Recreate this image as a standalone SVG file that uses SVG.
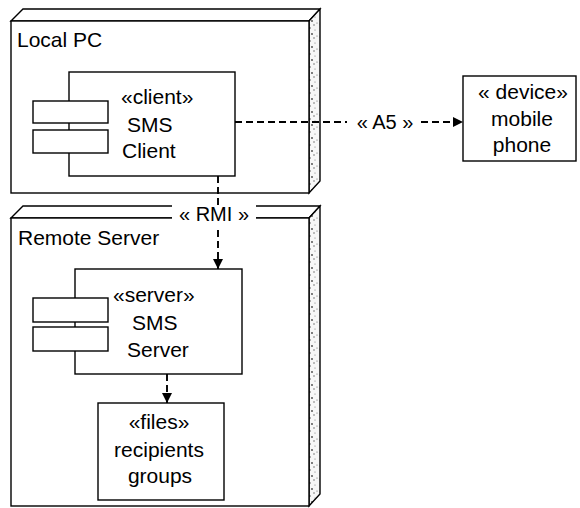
<svg xmlns="http://www.w3.org/2000/svg" width="580" height="508" viewBox="0 0 580 508">
<style>
  .ln{fill:none;stroke:#000;stroke-width:1.4}
  .box{fill:#fff;stroke:#000;stroke-width:1.4}
  .side{fill:url(#speck);stroke:#000;stroke-width:1.4}
  .dash{fill:none;stroke:#000;stroke-width:1.9;stroke-dasharray:7,4}
  text{font-family:"Liberation Sans",Arial,sans-serif;font-size:21px;fill:#000}
  .lbl{font-size:20px}
</style>
<defs>
  <pattern id="speck" width="11" height="13" patternUnits="userSpaceOnUse">
    <rect width="11" height="13" fill="#f7f7f7"/>
    <circle cx="2" cy="2" r="0.8" fill="#555"/>
    <circle cx="7" cy="4" r="0.6" fill="#777"/>
    <circle cx="4" cy="8" r="0.9" fill="#444"/>
    <circle cx="9" cy="10" r="0.6" fill="#666"/>
    <circle cx="1" cy="11" r="0.5" fill="#888"/>
    <circle cx="6" cy="12" r="0.7" fill="#555"/>
  </pattern>
  <marker id="arr" viewBox="0 0 10 10" refX="10" refY="5" markerWidth="10" markerHeight="10" markerUnits="userSpaceOnUse" orient="auto">
    <path d="M0,0 L10,5 L0,10 z" fill="#000"/>
  </marker>
</defs>

<g id="localPC">
  <polygon class="box" points="11,21 23,9 320,9 309,21"/>
  <polygon class="side" points="309,21 320,9 320,181 309,193"/>
  <rect class="box" x="11" y="21" width="298" height="172"/>
  <text x="17" y="47">Local PC</text>
</g>

<g id="remoteServer">
  <polygon class="box" points="11,218 23,206 320,206 309,218"/>
  <polygon class="side" points="309,218 320,206 320,494 309,506"/>
  <rect class="box" x="11" y="218" width="298" height="288"/>
  <text x="18" y="245">Remote Server</text>
</g>

<g id="smsClient">
  <rect class="box" x="69" y="72" width="166" height="104"/>
  <rect class="box" x="33" y="101" width="75" height="22"/>
  <rect class="box" x="33" y="130" width="75" height="23"/>
  <text x="121" y="104">«client»</text>
  <text x="127" y="132">SMS</text>
  <text x="122" y="158">Client</text>
</g>

<g id="smsServer">
  <rect class="box" x="75" y="269" width="167" height="105"/>
  <rect class="box" x="33" y="298" width="75" height="24"/>
  <rect class="box" x="33" y="327" width="75" height="24"/>
  <text x="113" y="302">«server»</text>
  <text x="132" y="330">SMS</text>
  <text x="127" y="357">Server</text>
</g>

<g id="files">
  <rect class="box" x="98" y="403" width="126" height="97"/>
  <text x="159" y="429" text-anchor="middle">«files»</text>
  <text x="159" y="457" text-anchor="middle">recipients</text>
  <text x="160" y="483" text-anchor="middle">groups</text>
</g>

<g id="device">
  <rect class="box" x="463" y="76" width="113" height="85"/>
  <text x="523" y="99" text-anchor="middle">« device»</text>
  <text x="522" y="126" text-anchor="middle">mobile</text>
  <text x="522" y="152" text-anchor="middle">phone</text>
</g>

<g id="connectors">
  <path class="dash" d="M235,122 H347"/>
  <path class="dash" d="M421,122 H463" marker-end="url(#arr)"/>
  <text class="lbl" x="385" y="129" text-anchor="middle">« A5 »</text>

  <rect x="172" y="203" width="84" height="22" fill="#fff"/>
  <text class="lbl" x="214" y="221" text-anchor="middle">« RMI »</text>
  <path class="dash" d="M218,176 V206"/>
  <path class="dash" d="M218,230 V269" marker-end="url(#arr)"/>

  <path class="dash" d="M167,374 V403" marker-end="url(#arr)"/>
</g>
</svg>
